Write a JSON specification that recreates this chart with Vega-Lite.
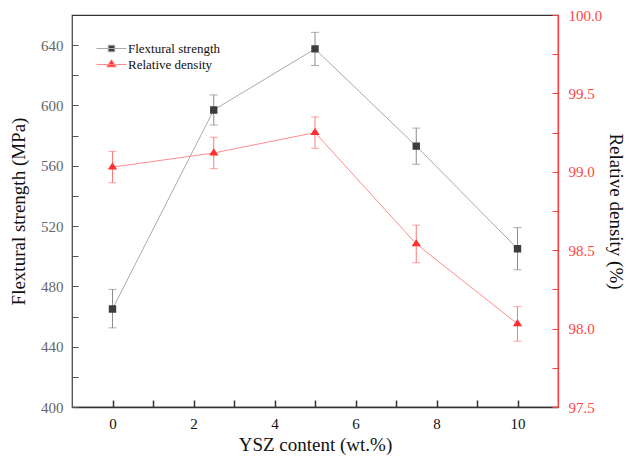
{
  "$schema": "https://vega.github.io/schema/vega-lite/v6.json",
  "width": 486,
  "height": 392,
  "autosize": "none",
  "padding": {"left": 72, "top": 15, "right": 73, "bottom": 57},
  "background": "white",
  "config": {
    "view": {"stroke": "#333333", "strokeWidth": 1.2},
    "font": "Liberation Serif",
    "axis": {"labelFont": "Liberation Serif", "titleFont": "Liberation Serif", "grid": false, "titleFontWeight": "normal"},
    "legend": {"labelFont": "Liberation Serif"}
  },
  "data": {
    "values": [
      {"series": "Flextural strength", "x": 0, "y": 465, "lo": 452.5, "hi": 478},
      {"series": "Flextural strength", "x": 2.5, "y": 597, "lo": 587, "hi": 607},
      {"series": "Flextural strength", "x": 5, "y": 637.5, "lo": 626.5, "hi": 648.5},
      {"series": "Flextural strength", "x": 7.5, "y": 573, "lo": 561, "hi": 585},
      {"series": "Flextural strength", "x": 10, "y": 505, "lo": 491, "hi": 519},
      {"series": "Relative density", "x": 0, "y": 99.03, "lo": 98.93, "hi": 99.13},
      {"series": "Relative density", "x": 2.5, "y": 99.12, "lo": 99.02, "hi": 99.22},
      {"series": "Relative density", "x": 5, "y": 99.25, "lo": 99.15, "hi": 99.35},
      {"series": "Relative density", "x": 7.5, "y": 98.54, "lo": 98.42, "hi": 98.66},
      {"series": "Relative density", "x": 10, "y": 98.03, "lo": 97.92, "hi": 98.14}
    ]
  },
  "encoding": {
    "x": {
      "field": "x",
      "type": "quantitative",
      "scale": {"domain": [-1, 11], "nice": false, "zero": false},
      "axis": {
        "values": [0, 1, 2, 3, 4, 5, 6, 7, 8, 9, 10],
        "labelExpr": "datum.value % 2 === 0 ? datum.label : ''",
        "labelFlush": false,
        "labelOverlap": false,
        "tickSize": -7,
        "tickWidth": 1.5,
        "tickColor": "#333333",
        "domainColor": "#333333",
        "domainWidth": 1.5,
        "labelPadding": 16,
        "labelFontSize": 15,
        "labelColor": "#111111",
        "title": "YSZ content (wt.%)",
        "titleFontSize": 19,
        "titleColor": "#111111",
        "titlePadding": 4
      }
    }
  },
  "layer": [
    {
      "transform": [{"filter": "datum.series === 'Flextural strength'"}],
      "encoding": {
        "y": {
          "field": "y",
          "type": "quantitative",
          "scale": {"domain": [400, 660], "nice": false, "zero": false},
          "axis": {
            "values": [400, 420, 440, 460, 480, 500, 520, 540, 560, 580, 600, 620, 640],
            "labelExpr": "datum.value % 40 === 0 ? datum.label : ''",
            "labelOverlap": false,
            "labelFlush": false,
            "tickSize": -6,
            "tickColor": "#555555",
            "domainColor": "#555555",
            "labelPadding": 15,
            "labelFontSize": 15,
            "labelColor": "#666666",
            "title": "Flextural strength (MPa)",
            "titleFontSize": 19,
            "titleColor": "#111111",
            "titlePadding": 12
          }
        }
      },
      "layer": [
        {
          "mark": {"type": "line", "strokeWidth": 1},
          "encoding": {
            "stroke": {
              "field": "series", "type": "nominal",
              "scale": {"domain": ["Flextural strength", "Relative density"], "range": ["#aaaaaa", "#ff8c8c"]},
              "legend": {
                "orient": "none", "legendX": 31, "legendY": 25, "title": null, "padding": 0,
                "symbolSize": 240, "symbolStrokeWidth": 1, "rowPadding": 0, "labelOffset": 8,
                "labelFontSize": 13, "labelColor": "#111111"
              }
            }
          }
        },
        {
          "mark": {"type": "errorbar", "color": "#8c8c8c", "thickness": 1, "ticks": {"size": 8, "thickness": 1, "color": "#8c8c8c"}},
          "encoding": {
            "y": {"field": "lo", "type": "quantitative", "title": "Flextural strength (MPa)", "scale": {"domain": [400, 660], "nice": false, "zero": false}},
            "y2": {"field": "hi"}
          }
        },
        {
          "mark": {"type": "point", "filled": true, "opacity": 1, "size": 310},
          "encoding": {
            "color": {
              "field": "series", "type": "nominal",
              "scale": {"domain": ["Flextural strength", "Relative density"], "range": ["#3d3d3d", "#ff3030"]},
              "legend": {
                "orient": "none", "legendX": 31, "legendY": 25, "title": null, "padding": 0,
                "symbolSize": 240, "symbolStrokeWidth": 1, "rowPadding": 0, "labelOffset": 8,
                "labelFontSize": 13, "labelColor": "#111111"
              }
            },
            "shape": {
              "field": "series", "type": "nominal",
              "scale": {"domain": ["Flextural strength", "Relative density"], "range": ["M-1.94,0H1.94M-0.42,-0.42H0.42V0.42H-0.42Z", "M-1.94,0H1.94M-0.6,0.31L0,-0.62L0.6,0.31Z"]},
              "legend": {
                "orient": "none", "legendX": 31, "legendY": 25, "title": null, "padding": 0,
                "symbolSize": 240, "symbolStrokeWidth": 1, "rowPadding": 0, "labelOffset": 8,
                "labelFontSize": 13, "labelColor": "#111111"
              }
            }
          }
        }
      ]
    },
    {
      "transform": [{"filter": "datum.series === 'Relative density'"}],
      "encoding": {
        "y": {
          "field": "y",
          "type": "quantitative",
          "scale": {"domain": [97.5, 100], "nice": false, "zero": false},
          "axis": {
            "orient": "right",
            "values": [97.5, 97.75, 98, 98.25, 98.5, 98.75, 99, 99.25, 99.5, 99.75, 100],
            "format": ".1f",
            "labelExpr": "(datum.value * 4) % 2 === 0 ? datum.label : ''",
            "labelOverlap": false,
            "labelFlush": false,
            "tickSize": -6,
            "tickColor": "#ff3b3b",
            "domainColor": "#ff3b3b",
            "domainWidth": 1.2,
            "labelPadding": 16,
            "labelFontSize": 15,
            "labelColor": "#ff4545",
            "title": "Relative density (%)",
            "titleFontSize": 19,
            "titleColor": "#111111",
            "titlePadding": 4
          }
        }
      },
      "layer": [
        {
          "mark": {"type": "line", "strokeWidth": 1},
          "encoding": {
            "stroke": {
              "field": "series", "type": "nominal",
              "legend": {
                "orient": "none", "legendX": 31, "legendY": 25, "title": null, "padding": 0,
                "symbolSize": 240, "symbolStrokeWidth": 1, "rowPadding": 0, "labelOffset": 8,
                "labelFontSize": 13, "labelColor": "#111111"
              }
            }
          }
        },
        {
          "mark": {"type": "errorbar", "color": "#ff7a7a", "thickness": 1, "ticks": {"size": 8, "thickness": 1, "color": "#ff7a7a"}},
          "encoding": {
            "y": {"field": "lo", "type": "quantitative", "title": "Relative density (%)", "scale": {"domain": [97.5, 100], "nice": false, "zero": false}},
            "y2": {"field": "hi"}
          }
        },
        {
          "mark": {"type": "point", "filled": true, "opacity": 1, "size": 240},
          "encoding": {
            "color": {
              "field": "series", "type": "nominal",
              "legend": {
                "orient": "none", "legendX": 31, "legendY": 25, "title": null, "padding": 0,
                "symbolSize": 240, "symbolStrokeWidth": 1, "rowPadding": 0, "labelOffset": 8,
                "labelFontSize": 13, "labelColor": "#111111"
              }
            },
            "shape": {
              "field": "series", "type": "nominal",
              "legend": {
                "orient": "none", "legendX": 31, "legendY": 25, "title": null, "padding": 0,
                "symbolSize": 240, "symbolStrokeWidth": 1, "rowPadding": 0, "labelOffset": 8,
                "labelFontSize": 13, "labelColor": "#111111"
              }
            }
          }
        }
      ]
    }
  ],
  "resolve": {"scale": {"y": "independent"}}
}
